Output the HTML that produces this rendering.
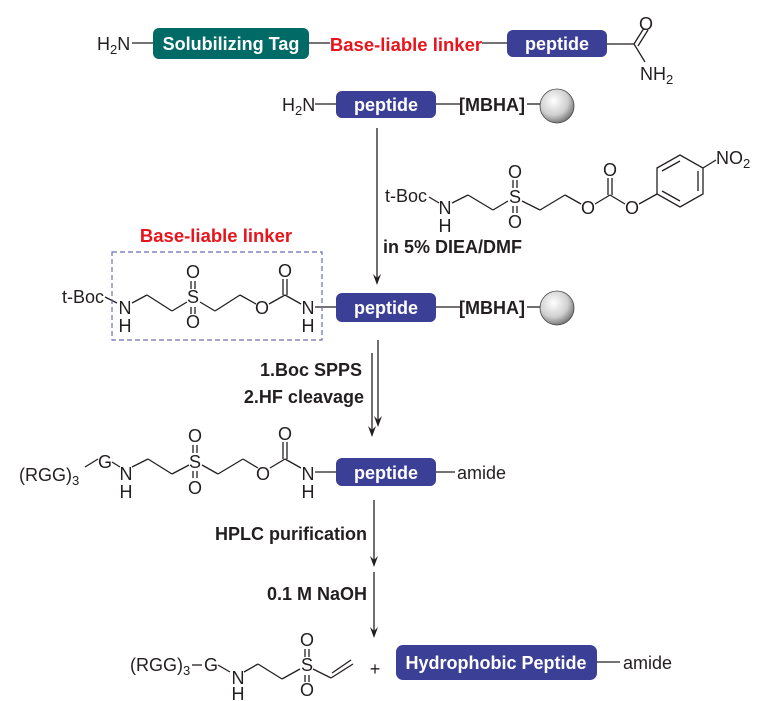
<!DOCTYPE html>
<html><head><meta charset="utf-8"><style>
html,body{margin:0;padding:0;background:#fff;}
svg{display:block;font-family:"Liberation Sans",Arial,Helvetica,sans-serif;}
text{font-family:"Liberation Sans",Arial,Helvetica,sans-serif;}
.m{font-size:18px;fill:#231f20;}
.b{font-size:18px;font-weight:bold;fill:#231f20;}
.w{font-size:18px;font-weight:bold;fill:#fff;}
.r{font-size:18.5px;font-weight:bold;fill:#e8141c;}
</style></head><body>
<svg width="772" height="701" viewBox="0 0 772 701" xmlns="http://www.w3.org/2000/svg" font-family="Liberation Sans, Arial, sans-serif">
<defs>
<radialGradient id="g" cx="0.4" cy="0.35" r="0.7">
<stop offset="0" stop-color="#ffffff"/><stop offset="0.6" stop-color="#cfcfcf"/><stop offset="1" stop-color="#6b6b6b"/>
</radialGradient>
</defs>
<g stroke="#231f20" stroke-width="1.3" fill="none">
<line x1="132" y1="43" x2="154" y2="43"/>
<line x1="309" y1="43" x2="330" y2="43"/>
<line x1="482" y1="43" x2="507" y2="43"/>
<line x1="607" y1="44" x2="634" y2="44"/>
<line x1="634" y1="44" x2="644" y2="28"/>
<line x1="638" y1="46" x2="648" y2="30"/>
<line x1="634" y1="44" x2="645" y2="62"/>
<line x1="315" y1="104" x2="336" y2="104"/>
<line x1="436" y1="104" x2="460" y2="104"/>
<line x1="527" y1="104" x2="540" y2="104"/>
<line x1="436" y1="307" x2="460" y2="307"/>
<line x1="527" y1="307" x2="540" y2="307"/>
<line x1="377" y1="128" x2="377" y2="278"/>
<line x1="372" y1="353" x2="372" y2="430"/>
<line x1="378" y1="340" x2="378" y2="420"/>
<line x1="374" y1="500" x2="374" y2="560"/>
<line x1="374" y1="572" x2="374" y2="631"/>
<line x1="429" y1="197" x2="439" y2="203"/>
<line x1="452" y1="203" x2="468" y2="195"/><line x1="468" y1="195" x2="493" y2="210"/><line x1="493" y1="210" x2="508" y2="201"/>
<line x1="522" y1="201" x2="540" y2="210"/><line x1="540" y1="210" x2="565" y2="195"/><line x1="565" y1="195" x2="581" y2="204"/>
<line x1="595" y1="204" x2="610" y2="195"/><line x1="610" y1="195" x2="625" y2="204"/>
<line x1="608" y1="195" x2="608" y2="178"/><line x1="612" y1="195" x2="612" y2="178"/>
<line x1="513" y1="188" x2="513" y2="180"/><line x1="517" y1="188" x2="517" y2="180"/>
<line x1="513" y1="206" x2="513" y2="213"/><line x1="517" y1="206" x2="517" y2="213"/>
<line x1="639" y1="204" x2="657" y2="194"/>
<polygon points="657,168 680,155 703,168 703,194 680,207 657,194"/>
<line x1="662" y1="171" x2="680" y2="161"/><line x1="698" y1="171" x2="698" y2="191"/><line x1="662" y1="191" x2="680" y2="201"/>
<line x1="703" y1="168" x2="716" y2="160"/>
<line x1="105" y1="297" x2="117" y2="303"/>
<line x1="132" y1="303" x2="147" y2="295"/><line x1="147" y1="295" x2="172" y2="311"/><line x1="172" y1="311" x2="187" y2="302"/>
<line x1="200" y1="302" x2="215" y2="311"/><line x1="215" y1="311" x2="240" y2="295"/><line x1="240" y1="295" x2="256" y2="304"/>
<line x1="269" y1="304" x2="285" y2="295"/><line x1="285" y1="295" x2="301" y2="304"/>
<line x1="283" y1="295" x2="283" y2="279"/><line x1="287" y1="295" x2="287" y2="279"/>
<line x1="191" y1="289" x2="191" y2="281"/><line x1="195" y1="289" x2="195" y2="281"/>
<line x1="191" y1="307" x2="191" y2="314"/><line x1="195" y1="307" x2="195" y2="314"/>
<line x1="315" y1="307" x2="336" y2="307"/>
<line x1="85" y1="467" x2="98" y2="459"/>
<line x1="112" y1="462" x2="120" y2="467"/>
<line x1="132" y1="467" x2="148" y2="459"/><line x1="148" y1="459" x2="172" y2="474"/><line x1="172" y1="474" x2="189" y2="465"/>
<line x1="202" y1="465" x2="218" y2="474"/><line x1="218" y1="474" x2="243" y2="459"/><line x1="243" y1="459" x2="258" y2="468"/>
<line x1="270" y1="468" x2="285" y2="459"/><line x1="285" y1="459" x2="301" y2="468"/>
<line x1="283" y1="459" x2="283" y2="442"/><line x1="287" y1="459" x2="287" y2="442"/>
<line x1="193" y1="453" x2="193" y2="445"/><line x1="197" y1="453" x2="197" y2="445"/>
<line x1="193" y1="471" x2="193" y2="478"/><line x1="197" y1="471" x2="197" y2="478"/>
<line x1="315" y1="472" x2="336" y2="472"/>
<line x1="436" y1="472" x2="455" y2="472"/>
<line x1="192" y1="665" x2="202" y2="665"/>
<line x1="218" y1="665" x2="230" y2="672"/>
<line x1="244" y1="672" x2="258" y2="664"/><line x1="258" y1="664" x2="282" y2="679"/><line x1="282" y1="679" x2="300" y2="669"/>
<line x1="313" y1="669" x2="331" y2="678"/><line x1="331" y1="678" x2="353" y2="664"/><line x1="332" y1="673" x2="351" y2="660"/>
<line x1="305" y1="657" x2="305" y2="649"/><line x1="309" y1="657" x2="309" y2="649"/>
<line x1="305" y1="675" x2="305" y2="682"/><line x1="309" y1="675" x2="309" y2="682"/>
<line x1="597" y1="662" x2="620" y2="662"/>
</g>
<g fill="#231f20">
<polygon points="373,274 377,285 381,274 377,278"/>
<polygon points="368,426 372,437 376,426 372,430"/>
<polygon points="374,416 378,427 382,416 378,420"/>
<polygon points="370,556 374,567 378,556 374,560"/>
<polygon points="370,627 374,638 378,627 374,631"/>
</g>
<rect x="112" y="252" width="210" height="88" fill="none" stroke="#6b6fb8" stroke-width="1.2" stroke-dasharray="5,3"/>
<rect x="153" y="28" width="156" height="31" rx="6" fill="#006a66"/>
<text x="231" y="50" text-anchor="middle" class="w">Solubilizing Tag</text>
<text x="406" y="51" text-anchor="middle" class="r">Base-liable linker</text>
<rect x="507" y="30" width="100" height="27" rx="6" fill="#3b3f96"/>
<text x="557" y="50" text-anchor="middle" class="w">peptide</text>
<rect x="336" y="91" width="100" height="27" rx="6" fill="#3b3f96"/>
<text x="386" y="111" text-anchor="middle" class="w">peptide</text>
<rect x="336" y="293" width="100" height="29" rx="6" fill="#3b3f96"/>
<text x="386" y="314" text-anchor="middle" class="w">peptide</text>
<rect x="336" y="458" width="100" height="28" rx="6" fill="#3b3f96"/>
<text x="386" y="479" text-anchor="middle" class="w">peptide</text>
<rect x="396" y="645" width="201" height="35" rx="7" fill="#3b3f96"/>
<text x="496" y="669" text-anchor="middle" class="w">Hydrophobic Peptide</text>
<circle cx="557" cy="106" r="17" fill="url(#g)" stroke="#444" stroke-width="0.8"/>
<circle cx="557" cy="308" r="17" fill="url(#g)" stroke="#444" stroke-width="0.8"/>
<text x="97" y="50" class="m">H<tspan font-size="13" dy="4">2</tspan><tspan dy="-4">N</tspan></text>
<text x="646" y="30" class="m" text-anchor="middle">O</text>
<text x="640" y="80" class="m">NH<tspan font-size="13" dy="4">2</tspan></text>
<text x="282" y="111" class="m">H<tspan font-size="13" dy="4">2</tspan><tspan dy="-4">N</tspan></text>
<text x="459" y="111" class="b" font-size="19">[MBHA]</text>
<text x="459" y="314" class="b" font-size="19">[MBHA]</text>
<text x="385" y="202" class="m">t-Boc</text>
<text x="445" y="214" class="m" text-anchor="middle">N</text>
<text x="445" y="232" class="m" text-anchor="middle">H</text>
<text x="515" y="203" class="m" text-anchor="middle">S</text>
<text x="515" y="178" class="m" text-anchor="middle">O</text>
<text x="515" y="228" class="m" text-anchor="middle">O</text>
<text x="588" y="214" class="m" text-anchor="middle">O</text>
<text x="610" y="176" class="m" text-anchor="middle">O</text>
<text x="632" y="214" class="m" text-anchor="middle">O</text>
<text x="716" y="164" class="m">NO<tspan font-size="13" dy="4">2</tspan></text>
<text x="383" y="253" class="b">in 5% DIEA/DMF</text>
<text x="216" y="242" class="r" text-anchor="middle">Base-liable linker</text>
<text x="62" y="303" class="m">t-Boc</text>
<text x="125" y="314" class="m" text-anchor="middle">N</text>
<text x="125" y="332" class="m" text-anchor="middle">H</text>
<text x="193" y="303" class="m" text-anchor="middle">S</text>
<text x="193" y="278" class="m" text-anchor="middle">O</text>
<text x="193" y="328" class="m" text-anchor="middle">O</text>
<text x="262" y="314" class="m" text-anchor="middle">O</text>
<text x="285" y="277" class="m" text-anchor="middle">O</text>
<text x="308" y="314" class="m" text-anchor="middle">N</text>
<text x="308" y="332" class="m" text-anchor="middle">H</text>
<text x="362" y="376" class="b" text-anchor="end">1.Boc SPPS</text>
<text x="364" y="403" class="b" text-anchor="end">2.HF cleavage</text>
<text x="19" y="481" class="m">(RGG)<tspan font-size="13" dy="4">3</tspan></text>
<text x="105" y="468" class="m" text-anchor="middle">G</text>
<text x="126" y="480" class="m" text-anchor="middle">N</text>
<text x="126" y="498" class="m" text-anchor="middle">H</text>
<text x="195" y="468" class="m" text-anchor="middle">S</text>
<text x="195" y="442" class="m" text-anchor="middle">O</text>
<text x="195" y="494" class="m" text-anchor="middle">O</text>
<text x="263" y="480" class="m" text-anchor="middle">O</text>
<text x="285" y="440" class="m" text-anchor="middle">O</text>
<text x="308" y="480" class="m" text-anchor="middle">N</text>
<text x="308" y="498" class="m" text-anchor="middle">H</text>
<text x="457" y="479" class="m">amide</text>
<text x="367" y="540" class="b" text-anchor="end">HPLC purification</text>
<text x="367" y="600" class="b" text-anchor="end">0.1 M NaOH</text>
<text x="130" y="671" class="m">(RGG)<tspan font-size="13" dy="4">3</tspan></text>
<text x="211" y="671" class="m" text-anchor="middle">G</text>
<text x="238" y="684" class="m" text-anchor="middle">N</text>
<text x="238" y="700" class="m" text-anchor="middle">H</text>
<text x="307" y="671" class="m" text-anchor="middle">S</text>
<text x="307" y="646" class="m" text-anchor="middle">O</text>
<text x="307" y="696" class="m" text-anchor="middle">O</text>
<text x="375" y="675" class="m" text-anchor="middle">+</text>
<text x="623" y="669" class="m">amide</text>
</svg>
</body></html>
